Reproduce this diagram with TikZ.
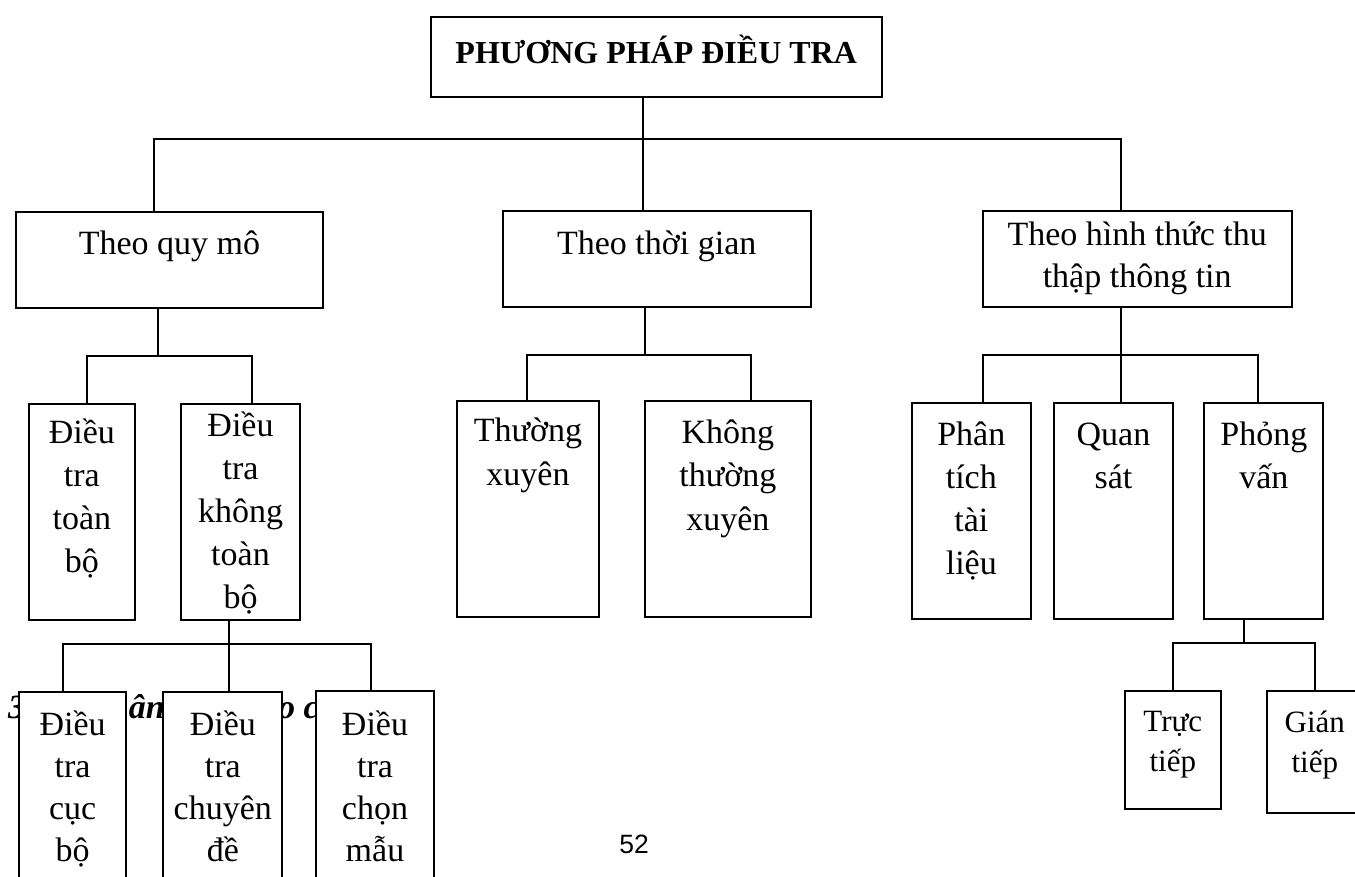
\documentclass[tikz,border=0pt]{standalone}
\usepackage{fontspec}
\setmainfont{Liberation Serif}
\newfontfamily\pagenumfont{Liberation Sans}
% centred multi-line label whose baseline is the first line
\newcommand\linestack[1]{\begin{tabular}[t]{@{}c@{}}#1\end{tabular}}
\begin{document}
\begin{tikzpicture}[x=1pt,y=-1pt,
  box/.style={draw, line width=2pt, fill=white, inner sep=0pt, outer sep=0pt},
  lbl/.style={inner sep=0pt, outer sep=0pt, anchor=base, font=\fontsize{34}{43}\selectfont},
  lblsmall/.style={lbl, font=\fontsize{31}{40}\selectfont},
  link/.style={line width=2pt},
]
\useasboundingbox (0,0) rectangle (1355,877);
\clip (0,0) rectangle (1355,877);

% section heading, partly hidden behind the lowest boxes
\node[inner sep=0pt, anchor=base west, font=\fontsize{34}{43}\selectfont\bfseries\itshape] (hnum) at (8,718) {3.};
\node[inner sep=0pt, anchor=base west, font=\fontsize{34}{43}\selectfont\bfseries\itshape] (htxt) at (89,718) {Phân loại theo các};

% ---------- boxes ----------
\node[box, minimum width=451pt, minimum height=80pt] (title) at (656.2,57) {};

\node[box, minimum width=307.6pt, minimum height=96.6pt] (qm) at (169.5,260) {};
\node[box, minimum width=308pt, minimum height=96.6pt] (tg) at (656.7,259) {};
\node[box, minimum width=309pt, minimum height=96.6pt] (hh) at (1137.2,259) {};

\node[box, minimum width=105.7pt, minimum height=216pt] (toanbo) at (81.85,512) {};
\node[box, minimum width=119pt, minimum height=216pt] (khong) at (240.5,512) {};

\node[box, minimum width=142.6pt, minimum height=216.3pt] (tx) at (528,509.2) {};
\node[box, minimum width=166.3pt, minimum height=216.3pt] (ktx) at (727.85,509.2) {};

\node[box, minimum width=119.3pt, minimum height=216pt] (pt) at (971.3,511.3) {};
\node[box, minimum width=119pt, minimum height=216pt] (qs) at (1113.5,511.3) {};
\node[box, minimum width=119pt, minimum height=216pt] (pv) at (1263.8,511.3) {};

\node[box, minimum width=106.7pt, minimum height=207.7pt] (cucbo) at (72.65,796.15) {};
\node[box, minimum width=119pt, minimum height=208pt] (chuyende) at (222.8,796) {};
\node[box, minimum width=118.6pt, minimum height=209pt] (chonmau) at (375,795.5) {};

\node[box, minimum width=95.7pt, minimum height=118.3pt] (tt) at (1172.85,750.15) {};
\node[box, minimum width=96.3pt, minimum height=122.3pt] (gt) at (1314.85,752.15) {};

% ---------- labels ----------
\node[lbl, font=\fontsize{32}{38}\selectfont\bfseries] (t-title) at ([yshift=-47pt]title.north) {PHƯƠNG PHÁP ĐIỀU TRA};

\node[lbl] (t-qm) at ([yshift=-43.3pt]qm.north) {Theo quy mô};
\node[lbl] (t-tg) at ([yshift=-44.3pt]tg.north) {Theo thời gian};
\node[lbl, font=\fontsize{34}{42}\selectfont] (t-hh) at ([yshift=-35.3pt]hh.north) {\linestack{Theo hình thức thu\\thập thông tin}};

\node[lbl] (t-toanbo) at ([yshift=-39pt]toanbo.north) {\linestack{Điều\\tra\\toàn\\bộ}};
\node[lbl] (t-khong) at ([yshift=-32pt]khong.north) {\linestack{Điều\\tra\\không\\toàn\\bộ}};

\node[lbl, font=\fontsize{34}{44}\selectfont] (t-tx) at ([yshift=-40.7pt]tx.north) {\linestack{Thường\\xuyên}};
\node[lbl, font=\fontsize{34}{43.5}\selectfont] (t-ktx) at ([yshift=-42pt]ktx.north) {\linestack{Không\\thường\\xuyên}};

\node[lbl] (t-pt) at ([yshift=-41.7pt]pt.north) {\linestack{Phân\\tích\\tài\\liệu}};
\node[lbl] (t-qs) at ([yshift=-41.7pt]qs.north) {\linestack{Quan\\sát}};
\node[lbl] (t-pv) at ([yshift=-41.7pt]pv.north) {\linestack{Phỏng\\vấn}};

\node[lbl, font=\fontsize{34}{42.3}\selectfont] (t-cucbo) at ([yshift=-42.7pt]cucbo.north) {\linestack{Điều\\tra\\cục\\bộ}};
\node[lbl, font=\fontsize{34}{42.3}\selectfont] (t-chuyende) at ([yshift=-43pt]chuyende.north) {\linestack{Điều\\tra\\chuyên\\đề}};
\node[lbl, font=\fontsize{34}{42.3}\selectfont] (t-chonmau) at ([yshift=-44pt]chonmau.north) {\linestack{Điều\\tra\\chọn\\mẫu}};

\node[lblsmall] (t-tt) at ([yshift=-40.7pt]tt.north) {\linestack{Trực\\tiếp}};
\node[lblsmall] (t-gt) at ([yshift=-41.3pt]gt.north) {\linestack{Gián\\tiếp}};

% page number
\node[inner sep=0pt, anchor=base, font=\pagenumfont\fontsize{26.5}{30}\selectfont] (pg) at (634,853) {52};

% ---------- connectors ----------
\coordinate (bus0) at (643,139.5);
\draw[link] ([xshift=-13.2pt]title.south) -- ([xshift=-13.7pt]tg.north);
\draw[link] ([xshift=-15.5pt]qm.north) |- (bus0) -| ([xshift=-16.2pt]hh.north);

\coordinate (busqm) at (158,356);
\draw[link] ([xshift=-11.5pt]qm.south) -- (busqm);
\draw[link] ([xshift=5.15pt]toanbo.north) |- (busqm) -| ([xshift=11.8pt]khong.north);

\coordinate (bustg) at (645,355);
\draw[link] ([xshift=-11.7pt]tg.south) -- (bustg);
\draw[link] ([xshift=-1.3pt]tx.north) |- (bustg) -| ([xshift=23.45pt]ktx.north);

\coordinate (bushh) at (1121,355);
\draw[link] ([xshift=-16.2pt]hh.south) -- ([xshift=7.5pt]qs.north);
\draw[link] ([xshift=12pt]pt.north) |- (bushh) -| ([xshift=-6.1pt]pv.north);

\coordinate (buskh) at (228.7,644.3);
\draw[link] ([xshift=-11.8pt]khong.south) -- ([xshift=5.9pt]chuyende.north);
\draw[link] ([xshift=-9.95pt]cucbo.north) |- (buskh) -| ([xshift=-4pt]chonmau.north);

\coordinate (buspv) at (1244,643.3);
\draw[link] ([xshift=-19.8pt]pv.south) -- (buspv);
\draw[link] ([xshift=0.4pt]tt.north) |- (buspv) -| (gt.north);
\end{tikzpicture}
\end{document}
